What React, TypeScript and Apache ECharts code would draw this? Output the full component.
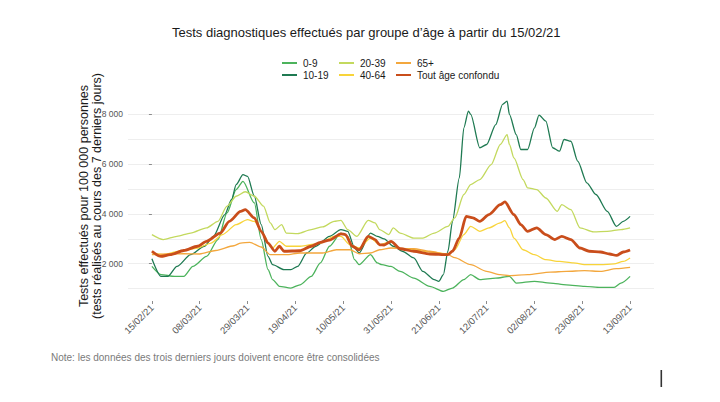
import React, { useEffect, useRef } from 'react';
import * as echarts from 'echarts';

// Dates shown on the x axis (dd/mm/yy); positions are days since 15/02/21
const xTickLabels = [
  '15/02/21', '08/03/21', '29/03/21', '19/04/21', '10/05/21', '31/05/21',
  '21/06/21', '12/07/21', '02/08/21', '23/08/21', '13/09/21',
];
const yTickValues = [2000, 4000, 6000, 8000];
const yGridValues = [1000, 2000, 3000, 4000, 5000, 6000, 7000, 8000];

// [day since 15/02/21, tests per 100 000 over 7 days]
const age0_9 = [
  [0, 1890], [4, 1560], [10, 1490], [14, 1490], [18, 1890], [24, 2290], [29, 2970], [33, 4040],
  [37, 4980], [40, 5310], [45, 4440], [48, 2970], [51, 1760], [53, 1360], [56, 1090], [61, 1020],
  [65, 1150], [70, 1490], [74, 2030], [78, 2700], [83, 3230], [86, 3100], [89, 2160], [91, 1960],
  [96, 2360], [99, 2030], [101, 1960], [105, 1890], [109, 1690], [115, 1420], [122, 1090], [128, 890],
  [132, 1020], [137, 1360], [140, 1560], [144, 1360], [151, 1420], [157, 1490], [160, 1220], [168, 1290],
  [175, 1220], [182, 1150], [190, 1090], [197, 1050], [203, 1050], [206, 1220], [210, 1490],
];
const age10_19 = [
  [0, 2200], [4, 1490], [7, 1490], [11, 1890], [17, 2360], [23, 2700], [27, 3100], [32, 3970],
  [35, 4580], [37, 5180], [40, 5580], [42, 5510], [45, 4710], [48, 3570], [51, 2290], [53, 1960],
  [58, 1760], [61, 1760], [64, 1890], [68, 2430], [72, 2700], [78, 3100], [83, 3370], [86, 3300],
  [89, 2630], [91, 2430], [96, 3230], [99, 3100], [102, 3000], [106, 2700], [110, 2500], [115, 2230],
  [119, 1690], [124, 1360], [126, 1290], [128, 1560], [130, 2500], [132, 3700], [135, 5450], [137, 7460],
  [139, 8130], [140, 8000], [144, 6660], [147, 6790], [151, 7590], [154, 8400], [156, 8530], [157, 8000],
  [160, 7190], [162, 6590], [165, 6590], [168, 7460], [170, 7970], [173, 7730], [176, 6660], [179, 6520],
  [181, 6990], [184, 6920], [187, 6120], [191, 5250], [195, 4780], [200, 4100], [204, 3500], [207, 3700],
  [210, 3900],
];
const age20_39 = [
  [0, 3170], [5, 2970], [11, 3100], [17, 3230], [24, 3440], [29, 3700], [33, 4310], [37, 4710],
  [41, 4890], [45, 4710], [49, 4310], [52, 3640], [54, 3370], [57, 3570], [59, 3230], [64, 3210],
  [70, 3370], [75, 3480], [80, 3700], [83, 3740], [86, 3370], [90, 3100], [95, 3740], [98, 3640],
  [100, 3370], [104, 3170], [106, 3440], [109, 3230], [115, 3030], [119, 3030], [124, 3230], [130, 3500],
  [133, 3840], [137, 4780], [140, 5180], [144, 5380], [149, 5980], [153, 6790], [156, 7190], [157, 6790],
  [159, 6250], [163, 5380], [165, 5050], [169, 4980], [173, 4640], [178, 4100], [180, 4370], [184, 4170],
  [188, 3440], [194, 3280], [200, 3300], [206, 3370], [210, 3440],
];
const age40_64 = [
  [0, 2430], [5, 2360], [12, 2500], [20, 2630], [26, 2830], [31, 3170], [37, 3570], [42, 3770],
  [45, 3700], [49, 3170], [52, 2700], [53, 2630], [56, 2900], [59, 2700], [65, 2700], [74, 2830],
  [80, 3100], [83, 3100], [87, 2760], [91, 2630], [96, 3030], [100, 2760], [105, 2900], [109, 2600],
  [115, 2560], [122, 2470], [130, 2390], [133, 2560], [137, 3170], [140, 3500], [144, 3300], [148, 3440],
  [153, 3640], [155, 3730], [157, 3440], [159, 3030], [163, 2560], [168, 2360], [173, 2160], [179, 2090],
  [185, 2030], [191, 1960], [197, 1960], [203, 1990], [207, 2090], [210, 2230],
];
const age65plus = [
  [0, 2360], [7, 2390], [14, 2400], [21, 2390], [28, 2530], [36, 2720], [39, 2830], [43, 2860],
  [48, 2670], [52, 2360], [59, 2360], [65, 2430], [75, 2430], [81, 2560], [87, 2560], [91, 2400],
  [96, 2430], [100, 2560], [105, 2630], [115, 2600], [122, 2500], [130, 2360], [133, 2240], [140, 1960],
  [147, 1690], [153, 1560], [157, 1520], [165, 1560], [175, 1660], [182, 1690], [190, 1720], [197, 1690],
  [204, 1800], [210, 1850],
];
const allAges = [
  [0, 2500], [4, 2290], [8, 2360], [14, 2530], [20, 2700], [24, 2900], [30, 3230], [34, 3700],
  [39, 4100], [41, 4170], [45, 3840], [48, 3300], [51, 2830], [54, 2500], [56, 2700], [58, 2500],
  [65, 2520], [70, 2700], [74, 2860], [78, 2950], [83, 3200], [85, 3170], [88, 2700], [91, 2560],
  [95, 3100], [98, 2970], [100, 2760], [102, 2750], [105, 2900], [109, 2600], [115, 2500], [122, 2390],
  [130, 2360], [132, 2500], [135, 3030], [138, 3900], [141, 3840], [144, 3700], [148, 3970], [153, 4370],
  [155, 4480], [159, 3970], [162, 3570], [165, 3300], [169, 3440], [173, 3170], [177, 2970], [180, 3100],
  [184, 2970], [188, 2630], [192, 2500], [197, 2470], [201, 2390], [204, 2330], [207, 2470], [210, 2550],
];

const seriesDefs = [
  { name: '0-9', data: age0_9, color: '#4cb35c', width: 1.3 },
  { name: '10-19', data: age10_19, color: '#1f7a52', width: 1.3 },
  { name: '20-39', data: age20_39, color: '#c3d95e', width: 1.3 },
  { name: '40-64', data: age40_64, color: '#f8d43a', width: 1.3 },
  { name: '65+', data: age65plus, color: '#f3a73d', width: 1.3 },
  { name: 'Tout âge confondu', data: allAges, color: '#c94d1b', width: 2.8 },
];

const FONT = '"Liberation Sans", Arial, Helvetica, sans-serif';
const START = Date.UTC(2021, 1, 15);
const dayOf = (label: string) => {
  const [d, m, y] = label.split('/').map(Number);
  return Math.round((Date.UTC(2000 + y, m - 1, d) - START) / 86400000);
};
const xTickDays = xTickLabels.map(dayOf);
const fmtThousands = (v: number) => String(v).replace(/\B(?=(\d{3})+(?!\d))/g, ' ');

const legendColumns = [
  { left: 281, names: ['0-9', '10-19'] },
  { left: 338, names: ['20-39', '40-64'] },
  { left: 395, names: ['65+', 'Tout âge confondu'] },
];

export default function App() {
  const ref = useRef<HTMLDivElement>(null);

  useEffect(() => {
    if (!ref.current) return;
    const chart = echarts.init(ref.current, undefined, { renderer: 'svg' });
    const yBase = { type: 'value', min: 500, max: 8900, axisLine: { show: false } };
    chart.setOption({
      animation: false,
      backgroundColor: '#ffffff',
      textStyle: { fontFamily: FONT },
      title: {
        text: 'Tests diagnostiques effectués par groupe d\u2019âge à partir du 15/02/21',
        left: 172,
        top: 26,
        padding: 0,
        textStyle: { fontSize: 13, fontWeight: 'normal', color: '#1a1a1a', fontFamily: FONT },
      },
      legend: legendColumns.map((c) => ({
        orient: 'vertical',
        left: c.left,
        top: 58,
        padding: 0,
        itemWidth: 15,
        itemHeight: 10,
        itemGap: 2,
        selectedMode: false,
        data: c.names,
        itemStyle: { opacity: 0, color: 'rgba(0,0,0,0)', borderColor: 'rgba(0,0,0,0)', borderWidth: 0 },
        textStyle: { fontSize: 10, color: '#1a1a1a', fontFamily: FONT, padding: [0, 0, 0, 1] },
      })),
      grid: { left: 128, right: 66, top: 92, bottom: 101 },
      xAxis: {
        type: 'value',
        min: -10.5,
        max: 220.5,
        axisLine: { show: false },
        splitLine: { show: false },
        axisTick: { show: true, customValues: xTickDays, length: 3, lineStyle: { color: '#8c8c8c' } },
        axisLabel: {
          customValues: xTickDays,
          rotate: 45,
          margin: 5,
          fontSize: 9.5,
          color: '#555555',
          fontFamily: FONT,
          formatter: (v: number) => xTickLabels[xTickDays.indexOf(v)] ?? '',
        },
      },
      yAxis: [
        {
          ...yBase,
          splitLine: { show: false },
          axisTick: { show: true, customValues: yTickValues, length: 3, lineStyle: { color: '#8c8c8c' } },
          axisLabel: {
            customValues: yTickValues,
            margin: 5,
            fontSize: 8.5,
            color: '#555555',
            fontFamily: FONT,
            formatter: (v: number) => fmtThousands(v),
          },
        },
        {
          ...yBase,
          axisTick: { show: false, customValues: yGridValues },
          axisLabel: { show: false },
          splitLine: { show: true, lineStyle: { color: '#eeeeee', width: 1 } },
        },
      ],
      series: seriesDefs.map((s) => ({
        name: s.name,
        type: 'line',
        data: s.data,
        yAxisIndex: 0,
        symbol: 'none',
        showSymbol: false,
        smooth: 0.25,
        smoothMonotone: 'x',
        color: s.color,
        lineStyle: { color: s.color, width: s.width },
        emphasis: { disabled: true },
      })),
      graphic: [
        {
          type: 'text',
          x: 83.5,
          y: 196,
          rotation: Math.PI / 2,
          style: {
            text: 'Tests effectués pour 100 000 personnes',
            align: 'center',
            verticalAlign: 'middle',
            fontSize: 12.5,
            fontFamily: FONT,
            fill: '#1a1a1a',
          },
        },
        {
          type: 'text',
          x: 96.5,
          y: 196,
          rotation: Math.PI / 2,
          style: {
            text: '(tests réalisés au cours des 7 derniers jours)',
            align: 'center',
            verticalAlign: 'middle',
            fontSize: 12.5,
            fontFamily: FONT,
            fill: '#1a1a1a',
          },
        },
        {
          type: 'text',
          x: 51,
          y: 357,
          style: {
            text: 'Note: les données des trois derniers jours doivent encore être consolidées',
            align: 'left',
            verticalAlign: 'middle',
            fontSize: 10,
            fontFamily: FONT,
            fill: '#7a7a7a',
          },
        },
        {
          type: 'rect',
          shape: { x: 660.5, y: 370, width: 1.6, height: 17 },
          style: { fill: '#333333' },
        },
      ],
    });
    return () => chart.dispose();
  }, []);

  return (
    <div
      ref={ref}
      style={{ position: 'absolute', left: 0, top: 0, width: 720, height: 402, background: '#ffffff' }}
    />
  );
}
